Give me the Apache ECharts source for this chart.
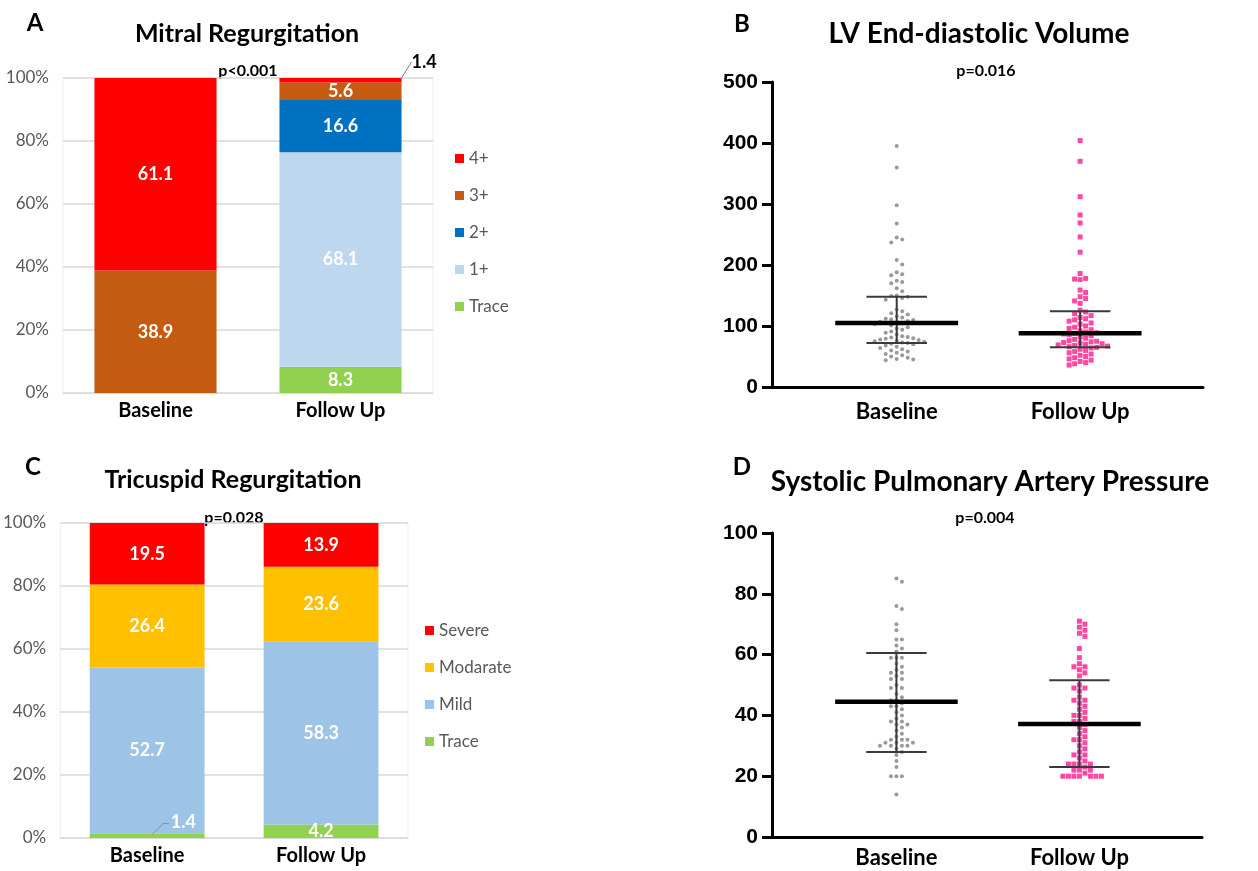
<!DOCTYPE html>
<html>
<head>
<meta charset="utf-8">
<script src="https://cdn.jsdelivr.net/npm/echarts@6/dist/echarts.min.js"></script>
<style>
  html, body { margin: 0; padding: 0; background: #fff; }
  #chart { width: 1258px; height: 871px; }
</style>
</head>
<body>
<div id="chart"></div>
<script>
const groups = ['Baseline', 'Follow Up']

// A: mitral regurgitation (% of patients), stacked bottom -> top
const mrGrades = ['Trace', '1+', '2+', '3+', '4+']
const mrBaseline = [0, 0, 0, 38.9, 61.1]
const mrFollowUp = [8.3, 68.1, 16.6, 5.6, 1.4]
const mrColors = ['#92D050', '#BDD7EE', '#0070C0', '#C55A11', '#FF0000']

// C: tricuspid regurgitation (% of patients)
const trGrades = ['Trace', 'Mild', 'Modarate', 'Severe']
const trBaseline = [1.4, 52.7, 26.4, 19.5]
const trFollowUp = [4.2, 58.3, 23.6, 13.9]
const trColors = ['#92D050', '#9DC3E6', '#FFC000', '#FF0000']

// B: LV end-diastolic volume, individual patients
const lvBaseline = [395, 360, 298, 268, 245, 242, 237, 208, 201, 188, 185, 183, 174, 172, 170, 162, 157,
  150, 149, 148, 146, 143, 127, 124, 121, 119, 116, 114, 112, 111, 110, 108, 107, 106, 105, 104, 103, 101,
  98, 96, 94, 91, 89, 86, 83, 82, 81, 80, 79, 78, 77, 76, 75, 74, 73, 72, 71, 70, 68, 66, 64, 62, 60, 58,
  56, 54, 52, 50, 48, 46, 45, 44]
const lvFollowUp = [404, 370, 312, 282, 269, 246, 221, 186, 178, 177, 176, 159, 155, 148, 145, 141, 137,
  126, 123, 120, 117, 114, 112, 110, 108, 105, 103, 100, 98, 96, 94, 92, 90, 89, 88, 87, 86, 84, 82, 80,
  78, 76, 75, 74, 73, 72, 71, 70, 69, 68, 67, 66, 65, 64, 62, 60, 58, 56, 54, 52, 50, 48, 46, 44, 42, 40, 38, 36]
const lvCenter = [105, 88]
const lvLow = [72, 65]
const lvHigh = [148, 124]

// D: systolic pulmonary artery pressure, individual patients
const spBaseline = [85, 84, 76, 75, 70, 68, 65, 65, 63, 62, 61, 59, 59, 59, 57, 56, 55, 54, 54, 53, 52, 52,
  50, 49, 49, 47, 46, 45, 45, 44, 43, 43, 42, 41, 40, 39, 38, 38, 37, 37, 36, 35, 34, 33, 32, 32, 32, 31,
  31, 31, 30, 30, 30, 30, 29, 28, 27, 25, 23, 20, 20, 20, 14]
const spFollowUp = [71, 70, 69, 68, 67, 66, 62, 59, 57, 56, 56, 55, 54, 53, 50, 49, 49, 48, 46, 45, 45, 44,
  43, 42, 41, 40, 40, 39, 38, 38, 37, 36, 35, 34, 33, 32, 32, 31, 30, 29, 28, 27, 27, 26, 25, 24, 24, 24,
  24, 23, 22, 22, 22, 21, 20, 20, 20, 20, 20, 20, 20]
const spCenter = [44.5, 37.2]
const spLow = [28, 23]
const spHigh = [60.5, 51.6]

const FONT = 'Lato, "Open Sans", sans-serif'
const NUMFONT = '"Liberation Sans", Arial, sans-serif'
const xMin = 0.32, xMax = 2.67

const chart = echarts.init(document.getElementById('chart'))

const grids = [
  { left: 63, top: 78, width: 370, height: 315 },   // A
  { left: 772, top: 82, width: 431, height: 305 },  // B
  { left: 60, top: 523, width: 348, height: 315 },  // C
  { left: 772, top: 533, width: 430, height: 304 }  // D
]

// simple beeswarm: spread equal-ish values sideways so dots don't overlap
const swarm = (values, cat, grid, yMax, gap) => {
  const pxY = grid.height / yMax
  const pxX = grid.width / (xMax - xMin)
  const placed = []
  return values.slice().sort((a, b) => b - a).map(v => {
    const py = v * pxY
    let k = 0, ox = 0
    for (;;) {
      ox = (k % 2 ? 1 : -1) * Math.ceil(k / 2) * gap
      if (!placed.some(p => (p[0] - ox) ** 2 + (p[1] - py) ** 2 < gap * gap)) break
      k++
    }
    placed.push([ox, py])
    return [cat + ox / pxX, v]
  })
}

const barSeries = (grades, base, follow, colors, gi, callout) => grades.map((g, i) => {
  const s = {
    name: g, type: 'bar', stack: 'st' + gi, xAxisIndex: gi, yAxisIndex: gi,
    barWidth: '66%',
    itemStyle: { color: colors[i] },
    label: {
      show: true, position: 'inside', color: '#fff', fontWeight: 'bold', fontSize: 18, fontFamily: FONT,
      formatter: p => (p.value ? p.value.toFixed(1) : '')
    },
    data: [base[i], follow[i]]
  }
  if (callout && callout.grade === g) {
    // small value: move its label out of the bar
    s.z = 3
    if (callout.line) s.labelLine = { show: true, lineStyle: { color: '#7f7f7f', width: 1 } }
    s.labelLayout = p => (p.dataIndex === callout.index
      ? { x: p.rect.x + callout.dx, y: p.rect.y + callout.dy, align: 'left', verticalAlign: 'middle' }
      : {})
    s.data[callout.index] = { value: s.data[callout.index], label: { color: callout.color } }
  }
  return s
})

// leader line from a stacked segment's top to its moved label
const leaderSeries = (gi, cat, value) => ({
  type: 'custom', xAxisIndex: gi, yAxisIndex: gi, z: 10, silent: true,
  data: [[cat, value]],
  renderItem: (params, api) => {
    const p = api.coord([api.value(0), api.value(1)])
    return {
      type: 'polyline',
      shape: { points: [[p[0] + 5, p[1] + 1], [p[0] + 16, p[1] - 10], [p[0] + 22, p[1] - 10]] },
      style: { stroke: '#8c8c8c', lineWidth: 1, fill: null }
    }
  }
})

const statSeries = (gi, center, low, high) => ({
  type: 'custom', xAxisIndex: gi, yAxisIndex: gi, z: 5, silent: true,
  data: center.map((c, i) => [i + 1, c, low[i], high[i]]),
  renderItem: (params, api) => {
    const x = api.value(0)
    const seg = (x0, y0, x1, y1, w, c) => {
      const a = api.coord([x0, y0]), b = api.coord([x1, y1])
      return { type: 'line', shape: { x1: a[0], y1: a[1], x2: b[0], y2: b[1] }, style: { stroke: c, lineWidth: w } }
    }
    return {
      type: 'group',
      children: [
        seg(x, api.value(2), x, api.value(3), 2, '#3a3a3a'),
        seg(x - 0.165, api.value(2), x + 0.165, api.value(2), 2, '#3a3a3a'),
        seg(x - 0.165, api.value(3), x + 0.165, api.value(3), 2, '#3a3a3a'),
        seg(x - 0.335, api.value(1), x + 0.335, api.value(1), 4.5, '#000')
      ]
    }
  }
})

const dotSeries = (gi, values, cat, yMax, color, symbol, size) => ({
  type: 'scatter', xAxisIndex: gi, yAxisIndex: gi, symbol, symbolSize: size, silent: true,
  itemStyle: { color },
  data: swarm(values, cat, grids[gi], yMax, 5.5)
})

const barX = gi => ({
  type: 'category', gridIndex: gi, data: groups,
  axisLine: { lineStyle: { color: '#d9d9d9' } }, axisTick: { show: false },
  axisLabel: { color: '#000', fontWeight: 'bold', fontSize: 20, fontFamily: FONT, margin: 8 }
})
const barY = gi => ({
  type: 'value', gridIndex: gi, min: 0, max: 100, interval: 20,
  axisLabel: { formatter: '{value}%', color: '#595959', fontSize: 17, fontFamily: FONT, margin: 14 },
  axisLine: { show: false }, axisTick: { show: false },
  splitLine: { lineStyle: { color: '#d9d9d9', width: 1.5 } }
})
const dotX = (gi, margin) => ({
  type: 'value', gridIndex: gi, min: xMin, max: xMax,
  axisLine: { lineStyle: { color: '#000', width: 3 } }, axisTick: { show: false }, splitLine: { show: false },
  axisLabel: { customValues: [1, 2], formatter: v => groups[Math.round(v) - 1],
    color: '#000', fontWeight: 'bold', fontSize: 22, fontFamily: FONT, margin }
})
const dotY = (gi, max, interval) => ({
  type: 'value', gridIndex: gi, min: 0, max, interval,
  axisLine: { show: true, lineStyle: { color: '#000', width: 3 } },
  axisTick: { show: true, length: 10, lineStyle: { color: '#000', width: 3 } },
  splitLine: { show: false },
  axisLabel: { color: '#000', fontWeight: 'bold', fontSize: 21, fontFamily: NUMFONT, margin: 14 }
})

const txt = (text, x, y, size, align = 'center') => ({
  type: 'text', x, y, silent: true,
  style: { text, fill: '#000', font: `bold ${size}px ${FONT}`, textAlign: align, textVerticalAlign: 'middle' }
})

const legendText = { color: '#595959', fontSize: 17, fontFamily: FONT }

const option = {
  animation: false,
  grid: grids.map((g, i) => ({ ...g, show: i % 2 === 0, borderColor: '#eeeeee', borderWidth: 1 })),
  xAxis: [barX(0), dotX(1, 14), barX(2), dotX(3, 10)],
  yAxis: [barY(0), dotY(1, 500, 100), barY(2), dotY(3, 100, 20)],
  legend: [
    { data: mrGrades.slice().reverse(), orient: 'vertical', left: 450, top: 145, icon: 'rect',
      itemWidth: 9, itemHeight: 9, itemGap: 20, textStyle: legendText },
    { data: trGrades.slice().reverse(), orient: 'vertical', left: 420, top: 617, icon: 'rect',
      itemWidth: 9, itemHeight: 9, itemGap: 20, textStyle: legendText }
  ],
  graphic: [
    txt('A', 35, 23, 24), txt('Mitral Regurgitation', 247, 34, 25), txt('p<0.001', 248, 71, 16),
    txt('B', 742, 24, 24), txt('LV End-diastolic Volume', 979, 34, 28), txt('p=0.016', 986, 71, 16),
    txt('C', 33, 467, 24), txt('Tricuspid Regurgitation', 233, 480, 25), txt('p=0.028', 234, 518, 16),
    txt('D', 742, 467, 24), txt('Systolic Pulmonary Artery Pressure', 990, 482, 28), txt('p=0.004', 985, 518, 16)
  ],
  series: [
    ...barSeries(mrGrades, mrBaseline, mrFollowUp, mrColors, 0,
      { grade: '4+', index: 1, dx: 132, dy: -16, color: '#000', line: true }),
    ...barSeries(trGrades, trBaseline, trFollowUp, trColors, 2,
      { grade: 'Trace', index: 0, dx: 81, dy: -11, color: '#fff', line: false }),
    leaderSeries(2, 0, trBaseline[0]),
    dotSeries(1, lvBaseline, 1, 500, '#7f7f7f', 'circle', 4),
    dotSeries(1, lvFollowUp, 2, 500, '#FF1A8C', 'rect', 5),
    statSeries(1, lvCenter, lvLow, lvHigh),
    dotSeries(3, spBaseline, 1, 100, '#7f7f7f', 'circle', 4),
    dotSeries(3, spFollowUp, 2, 100, '#FF1A8C', 'rect', 5),
    statSeries(3, spCenter, spLow, spHigh)
  ]
}

chart.setOption(option)
</script>
</body>
</html>
